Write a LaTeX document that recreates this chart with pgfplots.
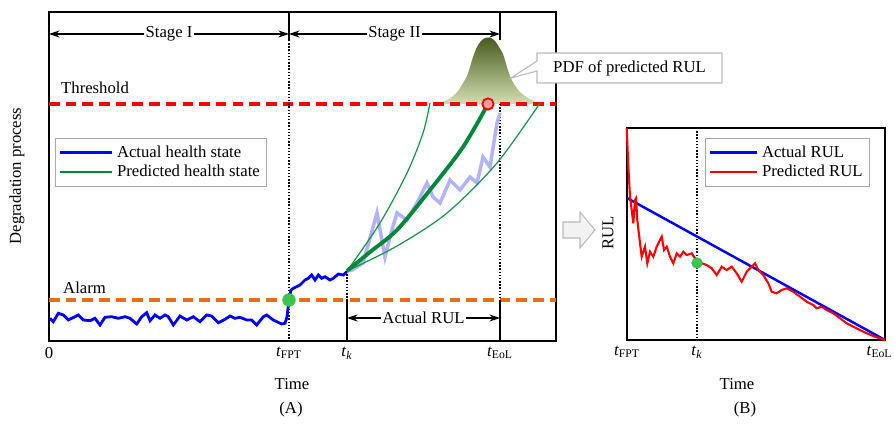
\documentclass[border=0pt]{standalone}
\usepackage{pgfplots}
\pgfplotsset{compat=1.18}
\usetikzlibrary{arrows.meta}
\usepackage{fontspec}
\setmainfont{Liberation Serif}

\definecolor{actblue}{RGB}{0,0,255}
\definecolor{lightact}{RGB}{178,178,255}
\definecolor{predgreen}{RGB}{0,135,55}
\definecolor{thingreen}{RGB}{30,145,75}
\definecolor{dotgreen}{RGB}{60,195,80}
\definecolor{alarmorange}{RGB}{230,110,25}
\definecolor{pdfdark}{RGB}{70,92,28}
\definecolor{pdflight}{RGB}{212,222,178}
\definecolor{pinkfill}{RGB}{255,160,160}

\newcommand{\tsub}[1]{\textit{t}\textsubscript{#1}}

\begin{document}
\begin{tikzpicture}[font=\fontsize{9.5}{11.5}\selectfont, >={Stealth[length=6pt,width=4pt]}]
\useasboundingbox (0,0) rectangle (17.88,8.46);

% ---------------- panel A
\begin{axis}[
    at={(0.98cm,1.64cm)}, anchor=south west,
    scale only axis, width=10.14cm, height=6.58cm,
    xmin=49, xmax=556, ymin=82, ymax=411,
    ytick=\empty,
    xtick={49,289,347,500},
    xticklabels={0,\tsub{FPT},\tsub{\textit{k}},\tsub{EoL}},
    major tick length=0pt,
    axis line style={line width=1pt},
    clip=false,
    legend cell align=left,
    legend style={at={(axis cs:55,285)}, anchor=north west, draw=gray!70,
        line width=0.6pt, inner sep=2pt, font=\fontsize{9.5}{11.5}\selectfont,
        row sep=-1pt},
    legend image code/.code={\draw[#1, line width=1.4pt] (0cm,0cm) -- (1.04cm,0cm);},
]
% PDF of predicted RUL
\addplot[draw=none, top color=pdfdark, bottom color=pdflight, smooth, forget plot] coordinates {
 (437,319) (445,322) (452,326) (458,332) (463,340) (467,347) (470,356) (473,366)
 (477,376) (481,382) (485,385) (488,385.5) (491,385) (495,382) (499,376) (503,369)
 (507,356) (510,347) (514,339) (520,331) (528,325) (540,319)} -- cycle;

% threshold and alarm
\addplot[red, line width=2pt, dash pattern=on 6pt off 3.5pt, forget plot] coordinates {(49,319) (556,319)};
\addplot[alarmorange, line width=2pt, dash pattern=on 6pt off 3.5pt, forget plot] coordinates {(49,123) (556,123)};

% time markers
\draw[line width=0.8pt] (axis cs:289,411) -- (axis cs:289,383);
\draw[line width=0.8pt, densely dotted] (axis cs:289,383) -- (axis cs:289,82);
\draw[line width=0.8pt] (axis cs:500,411) -- (axis cs:500,383);
\draw[line width=0.8pt, densely dotted] (axis cs:500,319) -- (axis cs:500,123);
\draw[line width=0.8pt] (axis cs:500,123) -- (axis cs:500,82);
\draw[line width=0.8pt, densely dotted] (axis cs:347,152) -- (axis cs:347,123);
\draw[line width=0.8pt] (axis cs:347,123) -- (axis cs:347,82);

\draw[<->, line width=0.7pt] (axis cs:49,389) -- (axis cs:289,389) node[midway, fill=white, inner sep=1pt] {Stage I};
\draw[<->, line width=0.7pt] (axis cs:289,389) -- (axis cs:500,389) node[midway, fill=white, inner sep=1pt] {Stage II};
\draw[<->, line width=0.7pt] (axis cs:347,105) -- (axis cs:500,105) node[midway, fill=white, inner sep=1pt] {Actual RUL};

\node[anchor=west] at (axis cs:55,335) {Threshold};
\node[anchor=west] at (axis cs:57,135) {Alarm};

% actual degradation after t_k (unknown at t_k)
\addplot[lightact, line width=2pt, forget plot] coordinates {
 (347,152) (352,153) (363,160) (370,185) (377,210) (385,166) (391,190) (397,210)
 (407,203) (417,220) (427,240) (433,226) (440,220) (450,243) (460,233) (470,246)
 (477,240) (483,266) (490,256) (497,300) (500,310)};

% prediction spread
\addplot[thingreen, line width=0.7pt, smooth, forget plot] coordinates {
 (347,152) (380,200) (407,250) (423,290) (430,320)};
\addplot[thingreen, line width=0.7pt, smooth, forget plot] coordinates {
 (347,152) (397,177) (447,210) (497,260) (540,320)};

% actual health state
\addplot[actblue, line width=1.6pt] coordinates {
 (50,104.7) (53.3,101.3) (58.3,109.7) (63.3,108) (68.3,103) (75,106.3) (78.3,108)
 (83.3,103) (90,102.3) (95,104.7) (100,98) (105,105.7) (111.7,106.3) (118.3,104.7)
 (125,106.3) (130,104.7) (136.7,99) (141.7,106.3) (146.7,110.3) (150,102.3) (155,108)
 (160,104.7) (165,108) (168.3,106.3) (173.3,98) (180,107) (186.7,103) (193.3,106.3)
 (200,101.3) (206.7,108) (211.7,107) (218.3,100.3) (225,103.7) (230,107) (235,104.7)
 (240,105.7) (246.7,103) (251.7,103) (256.7,98) (263.3,106.3) (266.7,108) (273.3,103)
 (281.7,99) (285,99.7) (287,106) (289,123) (291,133) (293.3,134.7) (300,138)
 (305,143) (308.3,144.7) (311.7,148) (315,143) (318.3,148) (321.7,144.7) (325,146.3)
 (330,143) (333.3,144.7) (338.3,149) (343.3,148) (346.7,151.3)};
\addlegendentry{Actual health state}

% predicted health state
\addplot[predgreen, line width=2.2pt, smooth] coordinates {
 (347,152) (370,171) (397,193) (430,233) (463,276) (488,319)};
\addlegendentry{Predicted health state}

\addplot[only marks, mark=*, mark size=3.6pt, mark options={fill=dotgreen, draw=dotgreen}, forget plot] coordinates {(289,123)};
\addplot[only marks, mark=*, mark size=3.2pt, mark options={fill=pinkfill, draw=red, line width=1.1pt}, forget plot] coordinates {(488,319)};

\node[rotate=90] at (axis cs:17,247) {Degradation process};
\node at (axis cs:292,39) {Time};
\node at (axis cs:291,14) {(A)};

% callout anchors
\coordinate (bTL) at (axis cs:537,370);
\coordinate (bTR) at (axis cs:722,370);
\coordinate (bBR) at (axis cs:722,340);
\coordinate (bBL) at (axis cs:537,340);
\coordinate (tA) at (axis cs:537,352);
\coordinate (tTip) at (axis cs:511,345);
\coordinate (tB) at (axis cs:537,362);
\coordinate (bC) at (axis cs:629.5,355);

% block arrow between panels
\filldraw[draw=gray!55, fill=gray!10, line width=0.6pt] (axis cs:563,201) -- (axis cs:580,201) -- (axis cs:580,211)
  -- (axis cs:595,193) -- (axis cs:580,175) -- (axis cs:580,185) -- (axis cs:563,185) -- cycle;
\end{axis}

\filldraw[draw=gray!55, fill=white, line width=0.6pt] (bTL) -- (bTR) -- (bBR) -- (bBL) -- (tA) -- (tTip) -- (tB) -- cycle;
\node at (bC) {PDF of predicted RUL};

% ---------------- panel B
\begin{axis}[
    at={(12.54cm,1.66cm)}, anchor=south west,
    scale only axis, width=5.16cm, height=4.24cm,
    xmin=627, xmax=885, ymin=83, ymax=295,
    ytick=\empty,
    xtick={627,697,885},
    xticklabels={\tsub{FPT},\tsub{\textit{k}},\hspace*{-0.22cm}\tsub{EoL}},
    major tick length=0pt,
    axis line style={line width=1pt},
    clip=false,
    legend cell align=left,
    legend style={at={(axis cs:705,285)}, anchor=north west, draw=gray!70,
        line width=0.6pt, inner sep=2pt, font=\fontsize{9.5}{11.5}\selectfont,
        row sep=-1pt},
    legend image code/.code={\draw[#1, line width=1.4pt] (0cm,0cm) -- (0.94cm,0cm);},
]
\draw[line width=0.8pt, densely dotted] (axis cs:697,295) -- (axis cs:697,83);

\addplot[actblue, line width=1.4pt] coordinates {(627,225) (885,83)};
\addlegendentry{Actual RUL}

\addplot[red, line width=1.2pt] coordinates {
 (626.7,294.7) (628.3,256.3) (630,226.3) (631.7,213) (633.3,199.7) (635,223) (636,224.7)
 (637.3,203) (640,179.7) (641.7,166.3) (645,176.3) (647.3,159.7) (650,171.3) (653.3,166.3)
 (656.7,176.3) (660,183) (661.7,186.3) (664,173) (666.7,176.3) (670,166.3) (673.3,159.7)
 (676.7,169.7) (680,166.3) (683.3,171.3) (686.7,168) (691.7,169.7) (695,164.7) (697.3,160.3)
 (701.7,159.7) (706.7,158) (711.7,154.7) (716.7,148) (721.7,156.3) (726.7,153) (731.7,156.3)
 (736.7,149.7) (741.7,141.3) (746.7,151.3) (751.7,156.3) (755,159.7) (758.3,153) (763.3,148)
 (768.3,139.7) (771.7,131.3) (776.7,129.7) (781.7,133) (786.7,134.7) (793.3,131.3) (800,126.3)
 (806.7,121.3) (813.3,118) (816.7,114.7) (821.7,116.3) (826.7,113) (833.3,109.7) (840,104.7)
 (846.7,99.7) (853.3,96.3) (860,93) (866.7,89.7) (875,86.3) (885,83)};
\addlegendentry{Predicted RUL}

\addplot[only marks, mark=*, mark size=3pt, mark options={fill=dotgreen, draw=dotgreen}, forget plot] coordinates {(697,160)};

\node[rotate=90] at (axis cs:608,190) {RUL};
\node at (axis cs:737,39) {Time};
\node at (axis cs:745,14) {(B)};
\end{axis}
\end{tikzpicture}
\end{document}
